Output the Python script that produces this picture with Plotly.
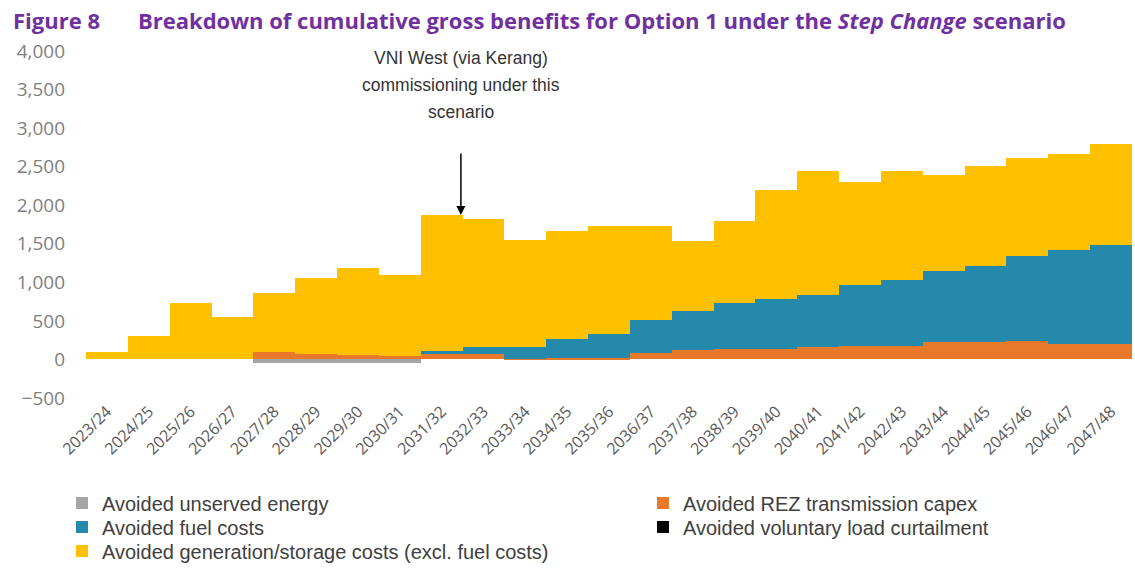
import plotly.graph_objects as go

categories = ["2023/24", "2024/25", "2025/26", "2026/27", "2027/28", "2028/29", "2029/30",
              "2030/31", "2031/32", "2032/33", "2033/34", "2034/35", "2035/36", "2036/37",
              "2037/38", "2038/39", "2039/40", "2040/41", "2041/42", "2042/43", "2043/44",
              "2044/45", "2045/46", "2046/47", "2047/48"]

unserved_energy = [0, 0, 0, 0, -45, -45, -45, -45, 0, 0, 0, 0, 0, 0,
                   0, 0, 0, 0, 0, 0, 0, 0, 0, 0, 0]
rez_capex = [0, 0, 0, 0, 95, 65, 60, 40, 70, 65, 10, 20, 15, 90,
             125, 140, 140, 160, 180, 180, 220, 220, 245, 200, 200]
fuel_costs = [0, 0, 0, 0, 0, 0, 0, 0, 40, 95, 150, 245, 320, 420,
              505, 590, 640, 680, 785, 845, 925, 990, 1095, 1225, 1290]
voluntary_curtailment = [0] * 25
generation_storage = [95, 310, 730, 555, 770, 990, 1130, 1050, 1760, 1655, 1385, 1395, 1390, 1220,
                      905, 1060, 1420, 1610, 1340, 1425, 1250, 1305, 1275, 1240, 1310]

y_ticks = [-500, 0, 500, 1000, 1500, 2000, 2500, 3000, 3500, 4000]

W, H = 1135, 570
L, R, T, B = 86, 3, 51, 172
pw, ph = W - L - R, H - T - B


def px_x(p):
    return (p - L) / pw


def px_y(p):
    return (H - B - p) / ph


# (name, values, colour, legend id, legend left px, legend row centre px)
series = [
    ("Avoided unserved energy", unserved_energy, "#A5A5A5", "legend", 62, 503),
    ("Avoided REZ transmission capex", rez_capex, "#E8792B", "legend2", 643, 503),
    ("Avoided fuel costs", fuel_costs, "#2589AC", "legend3", 62, 527),
    ("Avoided voluntary load curtailment", voluntary_curtailment, "#000000", "legend4", 643, 527),
    ("Avoided generation/storage costs (excl. fuel costs)", generation_storage, "#FFC000", "legend5", 62, 551),
]

font_main = "Open Sans"
legend_font = dict(family="Liberation Sans", size=20, color="#404040")

fig = go.Figure()
legends = {}
for name, vals, col, leg, lx, ly in series:
    fig.add_trace(go.Bar(x=categories, y=vals, name=name, legend=leg,
                         marker=dict(color=col, line=dict(width=0))))
    legends[leg] = dict(orientation="v", x=px_x(lx), y=px_y(ly),
                        xanchor="left", yanchor="middle",
                        font=legend_font, itemwidth=30,
                        bgcolor="rgba(0,0,0,0)")

fig.update_layout(
    width=W, height=H,
    margin=dict(l=L, r=R, t=T, b=B, autoexpand=False),
    barmode="relative", bargap=0,
    plot_bgcolor="white", paper_bgcolor="white",
    font=dict(family=font_main),
    showlegend=True,
    **legends,
)

fig.update_xaxes(showgrid=False, showline=False, zeroline=False, ticks="",
                 tickangle=-45, automargin=False,
                 tickfont=dict(family=font_main, size=16, color="#595959"))
fig.update_yaxes(range=[-500, 4000], tickvals=y_ticks, tickformat=",",
                 showgrid=False, showline=False, zeroline=False, ticks="",
                 automargin=False, ticklabelstandoff=20,
                 tickfont=dict(family=font_main, size=19, color="#808080"))

# Title
title_font = dict(family=font_main, size=22, color="#7030A0")
fig.add_annotation(xref="paper", yref="paper", x=px_x(11), y=px_y(20),
                   xanchor="left", yanchor="middle", showarrow=False,
                   text="<b>Figure 8</b>", font=title_font)
fig.add_annotation(xref="paper", yref="paper", x=px_x(136), y=px_y(20),
                   xanchor="left", yanchor="middle", showarrow=False,
                   text="<b>Breakdown of cumulative gross benefits for Option 1 under the <i>Step Change</i> scenario</b>",
                   font=title_font)

# VNI West note
note_lines = ["VNI West (via Kerang)", "commissioning under this", "scenario"]
for line, py in zip(note_lines, [58, 85, 112]):
    fig.add_annotation(xref="paper", yref="paper", x=px_x(461), y=px_y(py),
                       xanchor="center", yanchor="middle", showarrow=False,
                       text=line,
                       font=dict(family="Liberation Sans", size=17.5, color="#333333"))

fig.add_annotation(x=8.46, y=1873, ax=8.46, ay=2690, xref="x", yref="y",
                   axref="x", ayref="y", text="", showarrow=True,
                   arrowhead=2, arrowsize=1.2, arrowwidth=1.5, arrowcolor="#000000")

fig.write_html("out.html")
